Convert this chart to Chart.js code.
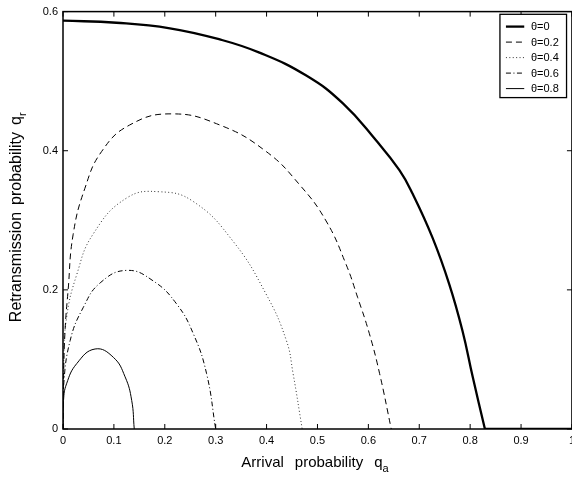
<!DOCTYPE html>
<html>
<head>
<meta charset="utf-8">
<script src="https://cdn.jsdelivr.net/npm/chart.js@4.4.0/dist/chart.umd.min.js"></script>
<style>
  html, body { margin: 0; padding: 0; background: #fff; overflow: hidden; }
  canvas { display: block; }
</style>
</head>
<body>
<canvas id="chart" width="580" height="479"></canvas>
<script>
// Series labels
const thetaLabels = ['θ=0', 'θ=0.2', 'θ=0.4', 'θ=0.6', 'θ=0.8'];

// Arrival probability qa / retransmission probability qr
const qa0 = [0, 0.105, 0.21, 0.308, 0.386, 0.478, 0.55, 0.615, 0.661, 0.687, 0.726, 0.759, 0.785, 0.805, 0.829];
const qr0 = [0.587, 0.584, 0.576, 0.560, 0.541, 0.508, 0.468, 0.415, 0.372, 0.338, 0.275, 0.208, 0.141, 0.075, 0];
// theta=0 stays at zero past the cut-off
const qa0Tail = [0.829, 1];
const qr0Tail = [0, 0];

const qa2 = [0, 0.001, 0.004, 0.010, 0.020, 0.043, 0.076, 0.131, 0.213, 0.308, 0.399, 0.465, 0.517, 0.556, 0.579, 0.602, 0.622, 0.645];
const qr2 = [0, 0.07, 0.141, 0.199, 0.280, 0.346, 0.399, 0.437, 0.453, 0.437, 0.399, 0.351, 0.299, 0.237, 0.189, 0.137, 0.080, 0];

const qa4 = [0, 0.001, 0.007, 0.027, 0.059, 0.125, 0.19, 0.256, 0.334, 0.399, 0.439, 0.452, 0.47];
const qr4 = [0, 0.089, 0.160, 0.222, 0.280, 0.332, 0.341, 0.327, 0.270, 0.194, 0.127, 0.08, 0];

const qa6 = [0, 0.001, 0.014, 0.040, 0.073, 0.125, 0.177, 0.223, 0.256, 0.282, 0.300];
const qr6 = [0, 0.06, 0.127, 0.175, 0.210, 0.228, 0.213, 0.180, 0.137, 0.080, 0];

const qa8 = [0, 0.001, 0.007, 0.027, 0.063, 0.099, 0.122, 0.135, 0.140];
const qr8 = [0, 0.041, 0.065, 0.094, 0.115, 0.103, 0.075, 0.041, 0];

// Axis ticks
const xTicks = [0, 0.1, 0.2, 0.3, 0.4, 0.5, 0.6, 0.7, 0.8, 0.9, 1];
const yTicks = [0, 0.2, 0.4, 0.6];

const FONT = '"Liberation Sans", Arial, sans-serif';

function toPoints(xs, ys) {
    return xs.map((x, i) => ({ x: x, y: ys[i] }));
}

const series = [
    { label: thetaLabels[0], data: toPoints(qa0, qr0), width: 2.3, dash: [], color: '#000' },
    { label: '', data: toPoints(qa0Tail, qr0Tail), width: 2.3, dash: [], color: '#000' },
    { label: thetaLabels[1], data: toPoints(qa2, qr2), width: 1, dash: [6, 4], color: '#000' },
    { label: thetaLabels[2], data: toPoints(qa4, qr4), width: 1, dash: [1, 2.4], color: '#333' },
    { label: thetaLabels[3], data: toPoints(qa6, qr6), width: 1, dash: [5, 2.5, 1, 2.5], color: '#000' },
    { label: thetaLabels[4], data: toPoints(qa8, qr8), width: 1, dash: [], color: '#000' }
];

// draw words one after another with a fixed gap, then the subscript
function drawWords(ctx, words, sub, font, subFont, gap, cx, baseline, subDrop) {
    ctx.font = font;
    const widths = words.map(w => ctx.measureText(w).width);
    ctx.font = subFont;
    const subW = ctx.measureText(sub).width;
    const total = widths.reduce((s, w) => s + w, 0) + gap * (words.length - 1) + subW;
    let x = cx - total / 2;
    ctx.font = font;
    words.forEach((w, i) => {
        ctx.fillText(w, x, baseline);
        x += widths[i] + (i < words.length - 1 ? gap : 0);
    });
    ctx.font = subFont;
    ctx.fillText(sub, x, baseline + subDrop);
}

// Box, inward tick marks, legend and axis titles (MATLAB look)
const framePlugin = {
    id: 'frame',
    afterDraw(chart) {
        const ctx = chart.ctx;
        const a = chart.chartArea;
        const xs = chart.scales.x;
        const ys = chart.scales.y;

        ctx.save();
        ctx.strokeStyle = '#000';
        ctx.lineWidth = 1.5;
        ctx.strokeRect(a.left, a.top, a.right - a.left, a.bottom - a.top);

        ctx.lineWidth = 1;
        ctx.beginPath();
        xTicks.forEach(v => {
            const px = xs.getPixelForValue(v);
            ctx.moveTo(px, a.bottom); ctx.lineTo(px, a.bottom - 5);
            ctx.moveTo(px, a.top); ctx.lineTo(px, a.top + 5);
        });
        yTicks.forEach(v => {
            const py = ys.getPixelForValue(v);
            ctx.moveTo(a.left, py); ctx.lineTo(a.left + 5, py);
            ctx.moveTo(a.right, py); ctx.lineTo(a.right - 5, py);
        });
        ctx.stroke();

        // Legend
        const items = chart.data.datasets.filter(ds => ds.label);
        const lw = 66.6, lh = 83.3;
        const lx = a.right - 5.4 - lw;
        const ly = a.top + 2.7;
        ctx.fillStyle = '#fff';
        ctx.fillRect(lx, ly, lw, lh);
        ctx.lineWidth = 1.3;
        ctx.strokeRect(lx, ly, lw, lh);
        ctx.font = '11px ' + FONT;
        ctx.textAlign = 'left';
        ctx.textBaseline = 'middle';
        items.forEach((ds, i) => {
            const y = ly + 12.3 + i * 15.5;
            ctx.beginPath();
            ctx.strokeStyle = ds.borderColor;
            ctx.lineWidth = ds.borderWidth;
            ctx.setLineDash(ds.borderDash);
            ctx.moveTo(lx + 6, y);
            ctx.lineTo(lx + 24.3, y);
            ctx.stroke();
            ctx.setLineDash([]);
            ctx.fillStyle = '#000';
            ctx.fillText(ds.label, lx + 31, y + 0.5);
        });

        // Axis titles with subscripts
        ctx.fillStyle = '#000';
        ctx.textBaseline = 'alphabetic';
        const main = '15px ' + FONT;
        const sub = '11px ' + FONT;

        drawWords(ctx, ['Arrival', 'probability', 'q'], 'a', main, sub, 11,
            (a.left + a.right) / 2 - 2.5, 467, 5);

        ctx.translate(21, (a.top + a.bottom) / 2 - 3);
        ctx.rotate(-Math.PI / 2);
        drawWords(ctx, ['Retransmission', 'probability', 'q'], 'r', '16px ' + FONT, sub, 7,
            0, 0, 5);
        ctx.restore();
    }
};

const ctx = document.getElementById('chart').getContext('2d');
const chart = new Chart(ctx, {
    type: 'scatter',
    data: {
        datasets: series.map(s => ({
            label: s.label,
            data: s.data,
            showLine: true,
            borderColor: s.color,
            borderWidth: s.width,
            borderDash: s.dash,
            pointRadius: 0,
            tension: 0.45,
            fill: false
        }))
    },
    options: {
        responsive: false,
        animation: false,
        devicePixelRatio: 1,
        layout: { padding: { top: 9, right: 7.3, bottom: 0, left: 0 } },
        plugins: {
            legend: { display: false },
            tooltip: { enabled: false }
        },
        scales: {
            x: {
                type: 'linear',
                min: 0,
                max: 1,
                afterBuildTicks: s => { s.ticks = xTicks.map(v => ({ value: v })); },
                afterFit: s => { s.height = 50; },
                grid: { display: false, drawTicks: false },
                border: { display: false },
                ticks: {
                    color: '#000',
                    padding: 5,
                    maxRotation: 0,
                    autoSkip: false,
                    font: { family: FONT, size: 11 },
                    callback: v => String(v)
                }
            },
            y: {
                type: 'linear',
                min: 0,
                max: 0.6,
                afterBuildTicks: s => { s.ticks = yTicks.map(v => ({ value: v })); },
                afterFit: s => { s.width = 63; },
                grid: { display: false, drawTicks: false },
                border: { display: false },
                ticks: {
                    color: '#000',
                    padding: 5,
                    font: { family: FONT, size: 11 },
                    callback: v => String(v)
                }
            }
        }
    },
    plugins: [framePlugin]
});
</script>
</body>
</html>
